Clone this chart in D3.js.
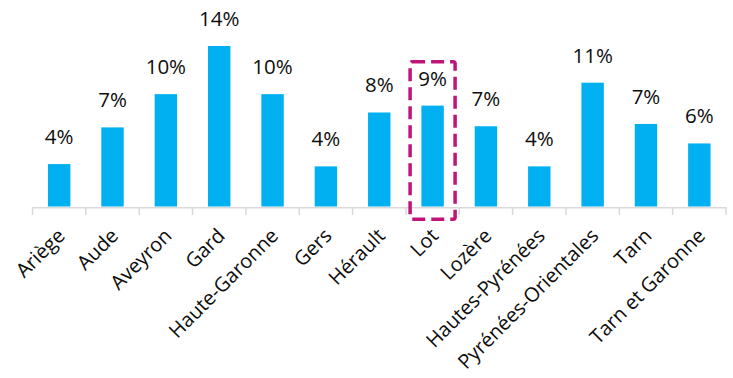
<!DOCTYPE html>
<html>
<head>
<meta charset="utf-8">
<script src="https://cdn.jsdelivr.net/npm/d3@7"></script>
<style>
  html, body { margin: 0; padding: 0; background: #fff; }
  svg { display: block; }
</style>
</head>
<body>
<svg id="chart" width="733" height="378"></svg>
<script>
const categories = ["Ariège", "Aude", "Aveyron", "Gard", "Haute-Garonne", "Gers", "Hérault", "Lot", "Lozère", "Hautes-Pyrénées", "Pyrénées-Orientales", "Tarn", "Tarn et Garonne"];
const values = [3.7, 6.9, 9.8, 14.0, 9.8, 3.5, 8.2, 8.8, 7.0, 3.5, 10.8, 7.2, 5.5];
const highlighted = ["Lot"];

const svg = d3.select("#chart");
const baseY = 206.5;
const x = d3.scaleBand().domain(categories).range([32.5, 726]).paddingInner(0.58).paddingOuter(0.29);
const y = d3.scaleLinear().domain([0, 14]).range([baseY, 46]);

const font = "'Open Sans', sans-serif";

// bars
svg.append("g").selectAll("rect").data(categories).join("rect")
  .attr("x", d => x(d))
  .attr("width", x.bandwidth())
  .attr("y", (d, i) => y(values[i]))
  .attr("height", (d, i) => baseY - y(values[i]))
  .attr("fill", "#00B0F0");

// value labels
svg.append("g").selectAll("text").data(categories).join("text")
  .attr("x", d => x(d) + x.bandwidth() / 2)
  .attr("y", (d, i) => y(values[i]) - 20)
  .attr("text-anchor", "middle")
  .attr("font-family", font)
  .attr("font-size", 20.5)
  .attr("fill", "#0d0d0d")
  .text((d, i) => Math.round(values[i]) + "%");

// axis
const x0 = 32.5;
const edges = d3.range(categories.length + 1).map(i => x0 + i * (726 - x0) / categories.length);
const ax = svg.append("g");
ax.append("line").attr("x1", x0).attr("x2", 726).attr("y1", 207.7).attr("y2", 207.7)
  .attr("stroke", "#d9d9d9").attr("stroke-width", 1.5);
ax.selectAll("line.tick").data(edges).join("line").attr("class", "tick")
  .attr("x1", d => d).attr("x2", d => d).attr("y1", 207).attr("y2", 215)
  .attr("stroke", "#d9d9d9").attr("stroke-width", 1.5);

// category labels
svg.append("g").selectAll("text").data(categories).join("text")
  .attr("transform", d => `translate(${x(d) + x.bandwidth() / 2 + 7},237) rotate(-45)`)
  .attr("text-anchor", "end")
  .attr("font-family", font)
  .attr("font-size", 20)
  .attr("fill", "#0d0d0d")
  .text(d => d);

// highlight box
highlighted.forEach(c => {
  const cx = x(c) + x.bandwidth() / 2;
  svg.append("rect")
    .attr("x", cx - 22.5)
    .attr("y", 61.7)
    .attr("width", 45)
    .attr("height", 157.5)
    .attr("rx", 2)
    .attr("fill", "none")
    .attr("stroke", "#C0147A")
    .attr("stroke-width", 3.5)
    .attr("stroke-dasharray", "13 6");
});
</script>
</body>
</html>
